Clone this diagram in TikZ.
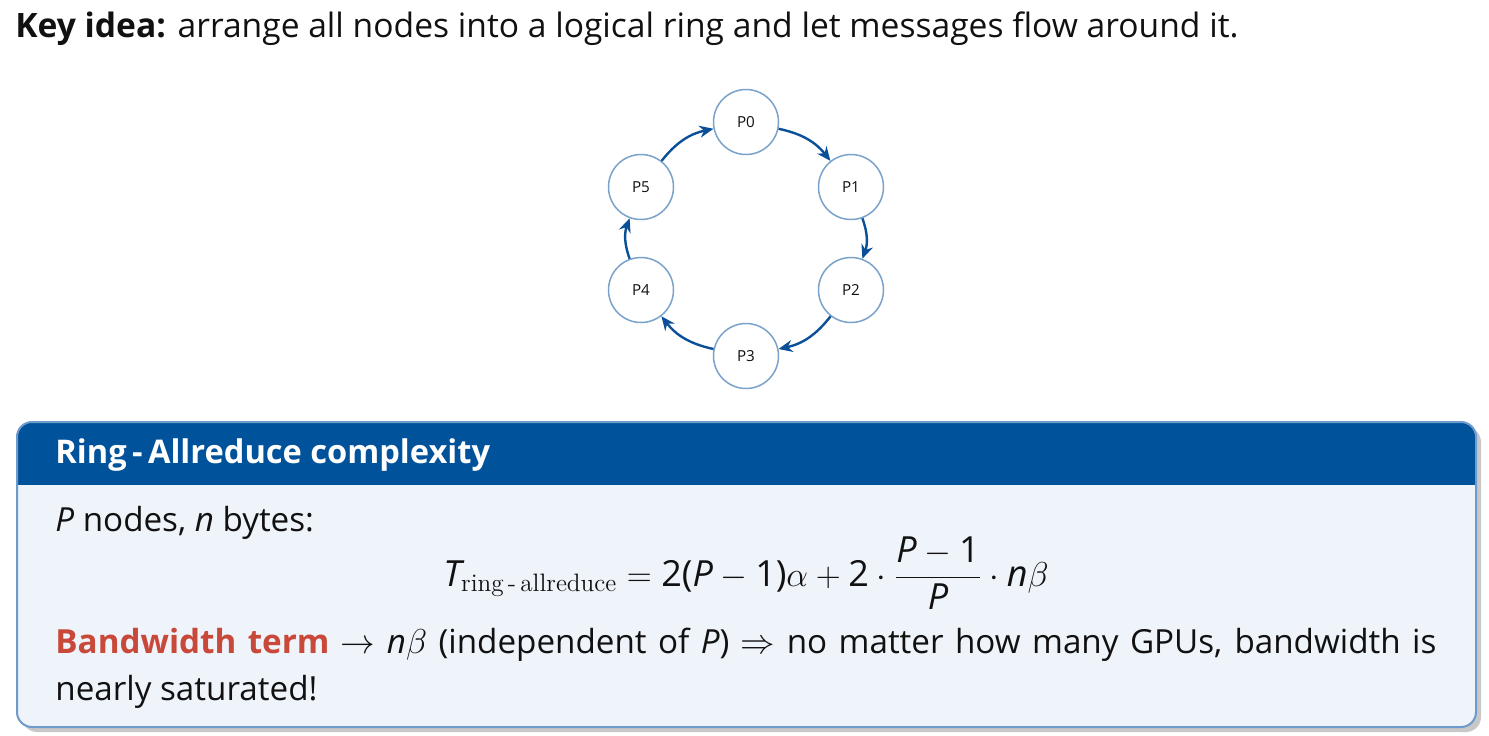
\documentclass[tikz,border=0pt]{standalone}
\usepackage{fontspec}
\usepackage{amsmath}
\setsansfont{Open Sans}
\usetikzlibrary{arrows.meta}
\definecolor{headblue}{HTML}{00529B}
\definecolor{bodyfill}{HTML}{EFF3FA}
\definecolor{boxborder}{HTML}{6E9BCB}
\definecolor{shadowgray}{HTML}{C8C8C8}
\definecolor{termred}{HTML}{C8483A}
\definecolor{arrowblue}{HTML}{0B4F98}
\definecolor{circleedge}{HTML}{7BA2CB}
\definecolor{textblack}{HTML}{111111}
\tikzset{
  pnode/.style={circle, draw=circleedge, line width=0.75pt, fill=white, minimum size=32.5pt, inner sep=0pt, font=\sffamily\fontsize{7.6}{8}\selectfont, text=textblack},
  ringarrow/.style={draw=arrowblue, line width=1.2pt, -{Stealth[length=7pt, width=6pt]}},
  bodytext/.style={font=\sffamily\fontsize{16.6}{20}\selectfont, text=textblack, inner sep=0pt},
}
\begin{document}
\begin{tikzpicture}[x=0.5pt, y=-0.5pt]
\path[use as bounding box] (0,0) rectangle (1489,735);
% title line
\node[bodytext, anchor=base west, font=\sffamily\fontsize{16.8}{20}\selectfont] (keyidea) at (15,37) {\textbf{Key idea:} arrange all nodes into a logical ring and let messages flow around it.};
% ring
\node[pnode] (p0) at (746,122) {P0};
\node[pnode] (p1) at (851,187) {P1};
\node[pnode] (p2) at (851,290) {P2};
\node[pnode] (p3) at (746,356) {P3};
\node[pnode] (p4) at (641,290) {P4};
\node[pnode] (p5) at (641,187) {P5};
\draw[ringarrow] (p0) to[bend left=20] (p1);
\draw[ringarrow] (p1) to[bend left=20] (p2);
\draw[ringarrow] (p2) to[bend left=20] (p3);
\draw[ringarrow] (p3) to[bend left=20] (p4);
\draw[ringarrow] (p4) to[bend left=20] (p5);
\draw[ringarrow] (p5) to[bend left=20] (p0);
% box
\fill[shadowgray, rounded corners=7.5pt] (22,427) rectangle (1481,732);
\fill[bodyfill, rounded corners=7.5pt] (17,422) rectangle (1476,727);
\begin{scope}
\clip[rounded corners=7.5pt] (17,422) rectangle (1476,727);
\fill[headblue] (17,422) rectangle (1476,485);
\end{scope}
\draw[boxborder, line width=1pt, rounded corners=7.5pt] (17,422) rectangle (1476,727);
\node[bodytext, anchor=base west, text=white, font=\sffamily\bfseries\fontsize{16.3}{20}\selectfont] (head) at (55,463) {Ring\,-\,Allreduce complexity};
\node[bodytext, anchor=base west] (pn) at (55,531) {\textit{P} nodes, \textit{n} bytes:};
\node[bodytext, anchor=base, font=\sffamily\fontsize{18}{21}\selectfont] (formula) at (746,586) {$\textit{T}_{\text{\rmfamily ring\,-\,allreduce}} = \text{2(}\textit{P} - \text{1)}\alpha + \text{2}\cdot\dfrac{\textit{P}-\text{1}}{\textit{P}}\cdot\textit{n}\beta$};
\node[bodytext, anchor=base west] (line1) at (55,653) {\makebox[690.5pt][s]{\textcolor{termred}{\textbf{Bandwidth term}} $\rightarrow$ \textit{n}$\beta$ (independent of \textit{P}) $\Rightarrow$ no matter how many GPUs, bandwidth is}};
\node[bodytext, anchor=base west] (line2) at (55,700) {nearly saturated!};
\end{tikzpicture}
\end{document}
